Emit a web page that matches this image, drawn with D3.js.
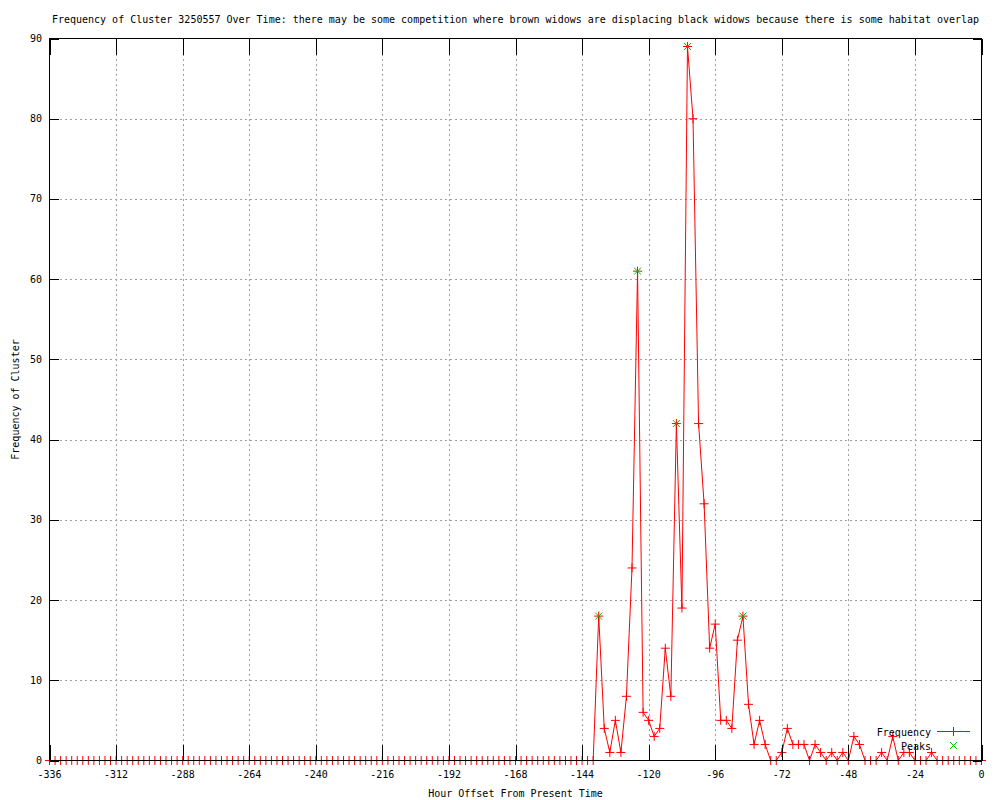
<!DOCTYPE html>
<html lang="en">

<head>
    <meta charset="UTF-8">
    <title>Frequency of Cluster 3250557 Over Time</title>
    <script src="https://d3js.org/d3.v7.min.js"></script>
    <style>
        body {
            margin: 0;
            background: #fff;
        }

        text {
            font-family: "DejaVu Sans Mono", monospace;
            font-size: 10px;
            fill: #000;
        }
    </style>
</head>

<body>
    <div id="chart"></div>

    <script>
        // Hour offsets (every 2 hours) and cluster frequency at each
        var hours = [
            -336, -334, -332, -330, -328, -326, -324, -322, -320, -318, -316, -314, -312, -310, -308, -306,
            -304, -302, -300, -298, -296, -294, -292, -290, -288, -286, -284, -282, -280, -278, -276, -274,
            -272, -270, -268, -266, -264, -262, -260, -258, -256, -254, -252, -250, -248, -246, -244, -242,
            -240, -238, -236, -234, -232, -230, -228, -226, -224, -222, -220, -218, -216, -214, -212, -210,
            -208, -206, -204, -202, -200, -198, -196, -194, -192, -190, -188, -186, -184, -182, -180, -178,
            -176, -174, -172, -170, -168, -166, -164, -162, -160, -158, -156, -154, -152, -150, -148, -146,
            -144, -142, -140, -138, -136, -134, -132, -130, -128, -126, -124, -122, -120, -118, -116, -114,
            -112, -110, -108, -106, -104, -102, -100, -98, -96, -94, -92, -90, -88, -86, -84, -82,
            -80, -78, -76, -74, -72, -70, -68, -66, -64, -62, -60, -58, -56, -54, -52, -50,
            -48, -46, -44, -42, -40, -38, -36, -34, -32, -30, -28, -26, -24, -22, -20, -18,
            -16, -14, -12, -10, -8, -6, -4, -2, 0
        ];
        var frequency = [
            0, 0, 0, 0, 0, 0, 0, 0, 0, 0, 0, 0, 0, 0, 0, 0,
            0, 0, 0, 0, 0, 0, 0, 0, 0, 0, 0, 0, 0, 0, 0, 0,
            0, 0, 0, 0, 0, 0, 0, 0, 0, 0, 0, 0, 0, 0, 0, 0,
            0, 0, 0, 0, 0, 0, 0, 0, 0, 0, 0, 0, 0, 0, 0, 0,
            0, 0, 0, 0, 0, 0, 0, 0, 0, 0, 0, 0, 0, 0, 0, 0,
            0, 0, 0, 0, 0, 0, 0, 0, 0, 0, 0, 0, 0, 0, 0, 0,
            0, 0, 0, 18, 4, 1, 5, 1, 8, 24, 61, 6, 5, 3, 4, 14,
            8, 42, 19, 89, 80, 42, 32, 14, 17, 5, 5, 4, 15, 18, 7, 2,
            5, 2, 0, 0, 1, 4, 2, 2, 2, 0, 2, 1, 0, 1, 0, 1,
            0, 3, 2, 0, 0, 0, 1, 0, 3, 0, 1, 1, 0, 0, 0, 1,
            0, 0, 0, 0, 0, 0, 0, 0, 0
        ];
        var peakHours = [-138, -124, -110, -106, -86];
        var peakValues = [18, 61, 42, 89, 18];

        var xTicks = [-336, -312, -288, -264, -240, -216, -192, -168, -144, -120, -96, -72, -48, -24, 0];
        var xTickLabels = ["-336", "-312", "-288", "-264", "-240", "-216", "-192", "-168", "-144", "-120", "-96", "-72", "-48", "-24", "0"];
        var yTicks = [0, 10, 20, 30, 40, 50, 60, 70, 80, 90];

        var W = 1000, H = 800;
        // plot box (half-pixel values keep 1px lines sharp)
        var plotL = 49.5, plotR = 981.5, plotT = 38.5, plotB = 760.5;

        var x = d3.scaleLinear().domain([-336, 0]).range([plotL, plotR]);
        var y = d3.scaleLinear().domain([0, 90]).range([plotB, plotT]);

        var svg = d3.select("#chart").append("svg")
            .attr("width", W)
            .attr("height", H);

        // grid (dotted grey)
        var grid = svg.append("g")
            .attr("stroke", "#a0a0a0")
            .attr("stroke-dasharray", "2,3")
            .attr("shape-rendering", "crispEdges");
        grid.selectAll(".gx")
            .data(xTicks.slice(1, -1))
            .enter().append("line")
            .attr("x1", function (d) { return Math.round(x(d)) + 0.5; })
            .attr("x2", function (d) { return Math.round(x(d)) + 0.5; })
            .attr("y1", plotT).attr("y2", plotB);
        grid.selectAll(".gy")
            .data(yTicks.slice(1, -1))
            .enter().append("line")
            .attr("y1", function (d) { return Math.round(y(d)) + 0.5; })
            .attr("y2", function (d) { return Math.round(y(d)) + 0.5; })
            .attr("x1", plotL).attr("x2", plotR);

        // frequency line + "+" points
        var pts = hours.map(function (h, i) { return [h, frequency[i]]; });
        var line = d3.line()
            .x(function (d) { return x(d[0]); })
            .y(function (d) { return y(d[1]); });

        svg.append("path")
            .datum(pts)
            .attr("d", line)
            .attr("fill", "none")
            .attr("stroke", "#ff0000")
            .attr("stroke-width", 1);

        var plusPath = "M-4.5,0H4.5M0,-4.5V4.5";
        svg.append("g").selectAll("path")
            .data(pts)
            .enter().append("path")
            .attr("transform", function (d) { return "translate(" + x(d[0]) + "," + y(d[1]) + ")"; })
            .attr("d", plusPath)
            .attr("stroke", "#ff0000")
            .attr("fill", "none");

        // peaks (green x)
        var crossPath = "M-3.5,-3.5L3.5,3.5M-3.5,3.5L3.5,-3.5";
        svg.append("g").selectAll("path")
            .data(peakHours)
            .enter().append("path")
            .attr("transform", function (d, i) { return "translate(" + x(d) + "," + y(peakValues[i]) + ")"; })
            .attr("d", crossPath)
            .attr("stroke", "#00c000")
            .attr("fill", "none");

        // border and ticks
        var frame = svg.append("g")
            .attr("stroke", "#000")
            .attr("shape-rendering", "crispEdges");
        frame.append("rect")
            .attr("x", plotL).attr("y", plotT)
            .attr("width", plotR - plotL).attr("height", plotB - plotT)
            .attr("fill", "none");

        frame.selectAll(".tx")
            .data(xTicks)
            .enter().append("path")
            .attr("d", function (d) {
                var px = Math.round(x(d)) + 0.5;
                return "M" + px + "," + plotB + "V" + (plotB - 16) +
                    "M" + px + "," + plotT + "V" + (plotT + 16);
            });
        frame.selectAll(".ty")
            .data(yTicks)
            .enter().append("path")
            .attr("d", function (d) {
                var py = Math.round(y(d)) + 0.5;
                return "M" + plotL + "," + py + "H" + (plotL + 9) +
                    "M" + plotR + "," + py + "H" + (plotR - 9);
            });

        // tick labels
        svg.append("g").selectAll("text")
            .data(xTicks)
            .enter().append("text")
            .attr("x", function (d) { return x(d); })
            .attr("y", 778)
            .attr("text-anchor", "middle")
            .text(function (d, i) { return xTickLabels[i]; });

        svg.append("g").selectAll("text")
            .data(yTicks)
            .enter().append("text")
            .attr("x", 42)
            .attr("y", function (d) { return y(d) + 3.5; })
            .attr("text-anchor", "end")
            .text(function (d) { return d; });

        // titles
        svg.append("text")
            .attr("x", (plotL + plotR) / 2)
            .attr("y", 22.5)
            .attr("text-anchor", "middle")
            .text("Frequency of Cluster 3250557 Over Time: there may be some competition where brown widows are displacing black widows because there is some habitat overlap");

        svg.append("text")
            .attr("x", (plotL + plotR) / 2)
            .attr("y", 797)
            .attr("text-anchor", "middle")
            .text("Hour Offset From Present Time");

        svg.append("text")
            .attr("transform", "translate(19," + ((plotT + plotB) / 2) + ") rotate(-90)")
            .attr("text-anchor", "middle")
            .text("Frequency of Cluster");

        // legend
        var legend = svg.append("g");
        legend.append("text")
            .attr("x", 931).attr("y", 736)
            .attr("text-anchor", "end")
            .text("Frequency");
        legend.append("path")
            .attr("d", "M937,731.5H970")
            .style("stroke", "#ff0000")
            .style("fill", "none");
        legend.append("path")
            .attr("transform", "translate(953.5,731.5)")
            .attr("d", plusPath)
            .style("stroke", "#ff0000")
            .style("fill", "none");
        legend.append("text")
            .attr("x", 931).attr("y", 749.5)
            .attr("text-anchor", "end")
            .text("Peaks");
        legend.append("path")
            .attr("transform", "translate(953.5,745.5)")
            .attr("d", crossPath)
            .style("stroke", "#00c000")
            .style("fill", "none");
    </script>
</body>

</html>
